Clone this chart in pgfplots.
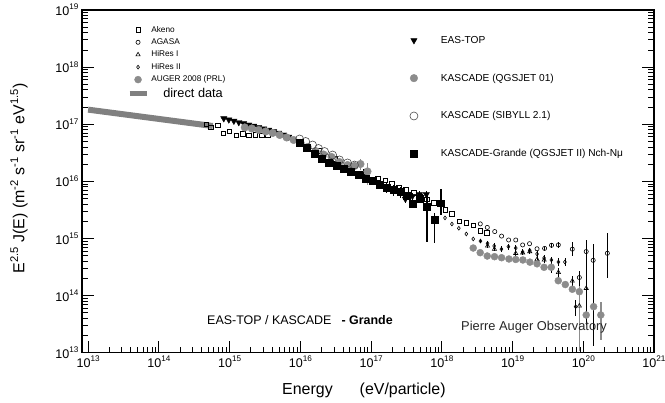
\documentclass[border=0pt]{standalone}
\usepackage{pgfplots}
\pgfplotsset{compat=1.18}
\usepackage{fontspec}
\setmainfont{Liberation Sans}
\setsansfont{Liberation Sans}
\definecolor{dg}{RGB}{128,128,128}
\definecolor{cg}{RGB}{140,140,140}
\newcommand{\tl}[1]{10\raisebox{0.45em}{\fontsize{8.2}{9}\selectfont #1}}
\begin{document}
\begin{tikzpicture}
\begin{axis}[
  scale only axis, width=572bp, height=342.7bp,
  xmode=log, ymode=log, xmin=8.2e12, xmax=1e21, ymin=1e13, ymax=1e19,
  at={(0bp,0bp)}, anchor=south west,
  axis line style={line width=1.1bp},
  xtick pos=left, ytick pos=both,
  major tick length=12bp, minor tick length=6bp,
  tick style={black, line width=0.8bp},
  xtick={1e13,1e14,1e15,1e16,1e17,1e18,1e19,1e20,1e21},
  xticklabels={\tl{13},\tl{14},\tl{15},\tl{16},\tl{17},\tl{18},\tl{19},\tl{20},\tl{21}},
  ytick={1e13,1e14,1e15,1e16,1e17,1e18,1e19},
  yticklabels={\tl{13},\tl{14},\tl{15},\tl{16},\tl{17},\tl{18},\tl{19}},
  tick label style={font=\fontsize{12.6}{13}\selectfont},
  xlabel={Energy\hspace{27bp}(eV/particle)},
  xlabel style={at={(axis description cs:0.3497,-0.1234)}, anchor=base west, inner sep=0pt, font=\fontsize{16}{17}\selectfont},
  ylabel={E\textsuperscript{2.5} J(E) (m\textsuperscript{-2} s\textsuperscript{-1} sr\textsuperscript{-1} eV\textsuperscript{1.5})},
  ylabel style={at={(axis description cs:-0.110,0.508)}, anchor=center, inner sep=0pt, font=\fontsize{16}{17}\selectfont},
  legend style={draw=none, fill=none, at={(axis description cs:0.0762,0.962)}, anchor=north west,
    font=\fontsize{8.3}{9}\selectfont, row sep=1bp, inner sep=1bp},
  legend cell align=left,
]
% direct data
\addplot[dg, line width=6bp, forget plot] coordinates {(1e13,1.8e17) (5.8e14,9.3e16)};
% Akeno
\addplot[only marks, mark=square, mark size=2.2bp, mark options={black, line width=0.6bp}] table {
x y
4.7e14 1.0e17
5.4e14 8.8e16
6.8e14 9.5e16
8.1e14 6.9e16
1.0e15 7.5e16
1.24e15 6.4e16
1.53e15 6.8e16
1.87e15 6.35e16
2.3e15 6.5e16
2.85e15 6.35e16
3.46e15 6.4e16
1.87e16 3.4e16
3.15e16 2.5e16
5.3e16 1.9e16
8.3e16 1.46e16
1.24e17 1.13e16
1.58e17 1.04e16
1.96e17 9.0e15
2.46e17 7.9e15
3.1e17 7.1e15
4.0e17 6.3e15
5.0e17 5.5e15
6.1e17 4.9e15
7.7e17 4.2e15
1.11e18 3.15e15
1.39e18 2.7e15
1.77e18 1.98e15
2.2e18 1.89e15
2.78e18 1.72e15
3.5e18 1.37e15
4.3e18 1.26e15
};
\addlegendentry{Akeno}
% AGASA
\addplot[only marks, mark=o, mark size=2.1bp, mark options={black, line width=0.6bp},
  error bars/y dir=both, error bars/y explicit, error bars/error mark=none,
  error bars/error bar style={black, line width=0.7bp}]
  table[x=x, y=y, y error plus=ep, y error minus=em] {
x y ep em
3.5e18 1.8e15 0 0
4.4e18 1.56e15 0 0
5.6e18 1.32e15 0 0
7.0e18 1.1e15 0 0
8.8e18 9.4e14 0 0
1.11e19 9.4e14 0 0
1.39e19 7.7e14 0 0
1.74e19 8.1e14 0 0
2.22e19 6.6e14 0 0
2.84e19 6.7e14 0.5e14 0.5e14
3.56e19 7.6e14 0.7e14 0.7e14
4.44e19 7.7e14 0.8e14 0.8e14
7.0e19 6.5e14 2.3e14 1.6e14
8.8e19 2.07e14 0.6e14 0.9e14
1.1e20 5.9e14 3.5e14 5.6e14
1.38e20 4.15e14 3.9e14 4.02e14
2.19e20 5.5e14 6.8e14 3.5e14
};
\addlegendentry{AGASA}
% HiRes I
\addplot[only marks, mark=triangle, mark size=2.4bp, mark options={black, line width=0.6bp},
  error bars/y dir=both, error bars/y explicit, error bars/error mark=none,
  error bars/error bar style={black, line width=0.7bp}]
  table[x=x, y=y, y error plus=ep, y error minus=em] {
x y ep em
4.43e18 7.4e14 0.5e14 0.5e14
5.55e18 6.5e14 0.5e14 0.5e14
1.11e19 5.5e14 0.5e14 0.5e14
1.39e19 5.6e14 0.5e14 0.5e14
1.75e19 5.9e14 0.5e14 0.5e14
2.22e19 4.3e14 0.5e14 0.5e14
2.8e19 4.2e14 0.5e14 0.5e14
3.54e19 3.0e14 0.5e14 0.5e14
4.45e19 2.55e14 0.5e14 0.5e14
7.0e19 1.8e14 0.4e14 0.4e14
8.8e19 6.6e13 3e13 3e13
1.1e20 1.34e14 0.6e14 0.5e14
};
\addlegendentry{HiRes I}
% HiRes II
\addplot[only marks, mark=diamond, mark size=1.9bp, mark options={black, line width=0.6bp},
  error bars/y dir=both, error bars/y explicit, error bars/error mark=none,
  error bars/error bar style={black, line width=0.7bp}]
  table[x=x, y=y, y error plus=ep, y error minus=em] {
x y ep em
1.11e18 2.29e15 0 0
1.39e18 1.79e15 0 0
1.74e18 1.51e15 0 0
2.22e18 1.2e15 0 0
2.78e18 9.8e14 0 0
3.52e18 9.0e14 0.8e14 0.8e14
4.43e18 8.2e14 0.8e14 0.8e14
5.5e18 7.4e14 0.8e14 0.8e14
6.97e18 6.5e14 0.8e14 0.8e14
8.75e18 7.2e14 0.8e14 0.8e14
1.11e19 6.8e14 0.8e14 0.8e14
1.39e19 5.8e14 0.7e14 0.7e14
1.75e19 6.2e14 0.7e14 0.7e14
2.22e19 5.35e14 0.7e14 0.7e14
2.79e19 4.55e14 0.6e14 0.6e14
3.54e19 4.2e14 0.6e14 0.6e14
4.45e19 3.87e14 0.6e14 0.6e14
5.5e19 3.87e14 0.6e14 0.6e14
7.8e19 6.4e13 2e13 2e13
};
\addlegendentry{HiRes II}
% Auger 2008
\addplot[only marks, mark=*, mark size=3.5bp, mark options={draw=cg, fill=cg},
  error bars/y dir=both, error bars/y explicit, error bars/error mark=none,
  error bars/error bar style={cg, line width=1.5bp}]
  table[x=x, y=y, y error plus=ep, y error minus=em] {
x y ep em
2.78e18 6.8e14 0 0
3.49e18 5.64e14 0 0
4.39e18 4.93e14 0 0
5.56e18 4.8e14 0 0
7.0e18 4.6e14 0 0
8.9e18 4.37e14 0 0
1.11e19 4.29e14 0 0
1.4e19 4.2e14 0 0
1.76e19 3.85e14 0 0
2.22e19 3.6e14 0 0
2.79e19 3.13e14 0 0
3.53e19 3.13e14 0 0
4.43e19 1.82e14 0 0
5.57e19 1.56e14 0 0
7.0e19 1.29e14 0 0
8.8e19 1.17e14 0.3e14 1.065e14
1.1e20 4.57e13 0 0
1.4e20 6.4e13 0 0
1.77e20 4.57e13 3.2e13 2.9e13
};
\addlegendentry{AUGER 2008 (PRL)}
\addlegendimage{dg, line width=5.5bp}
\addlegendentry{\hspace*{12bp}\fontsize{12.8}{13}\selectfont direct data}
\node[anchor=base west, inner sep=0pt, font=\fontsize{12.5}{13}\selectfont] at (axis description cs:0.2185,0.0837) {EAS-TOP / KASCADE\hspace{10bp}\textbf{- Grande}};
\node[anchor=base west, inner sep=0pt, font=\fontsize{12.9}{13}\selectfont, text=black!85] at (axis description cs:0.6626,0.0662) {Pierre Auger Observatory};
\end{axis}
\begin{axis}[
  scale only axis, width=572bp, height=342.7bp,
  xmode=log, ymode=log, xmin=8.2e12, xmax=1e21, ymin=1e13, ymax=1e19,
  at={(0bp,0bp)}, anchor=south west,
  hide axis,
  legend style={draw=none, fill=none, at={(axis description cs:0.5712,0.933)}, anchor=north west,
    font=\fontsize{10.2}{11}\selectfont, row sep=25bp, inner sep=1bp},
  legend cell align=left,
]
% EAS-TOP
\addplot[only marks, mark=triangle*, mark size=3.6bp, mark options={black, rotate=180},
  error bars/y dir=both, error bars/y explicit, error bars/error mark=none,
  error bars/error bar style={black, line width=0.9bp}]
  table[x=x, y=y, y error plus=ep, y error minus=em] {
x y ep em
8.28e14 1.26e17 0 0
9.75e14 1.20e17 0 0
1.15e15 1.14e17 0 0
1.35e15 1.08e17 0 0
1.58e15 1.03e17 0 0
1.87e15 9.78e16 0 0
2.19e15 9.31e16 0 0
2.58e15 8.84e16 0 0
3.03e15 8.35e16 0 0
3.57e15 7.93e16 0 0
4.2e15 7.46e16 0 0
4.94e15 7.03e16 0 0
5.81e15 6.53e16 0 0
6.84e15 5.98e16 0 0
3.06e17 4.91e15 0.8e15 0.8e15
3.84e17 5.5e15 0.8e15 0.8e15
4.82e17 5.89e15 1.0e15 1.0e15
6.04e17 5.89e15 1.0e15 1.0e15
};
\addlegendentry{\hspace*{21bp}EAS-TOP}
% KASCADE QGSJET 01
\addplot[only marks, mark=*, mark size=3.8bp, mark options={draw=cg, fill=cg},
  error bars/y dir=both, error bars/y explicit, error bars/error mark=none,
  error bars/error bar style={cg, line width=1bp}]
  table[x=x, y=y, y error plus=ep, y error minus=em] {
x y ep em
1.64e15 8.77e16 0 0
2.06e15 8.42e16 0 0
2.58e15 7.93e16 0 0
3.24e15 7.46e16 0 0
4.07e15 7.03e16 0 0
5.11e15 6.48e16 0 0
6.41e15 5.86e16 0 0
8.04e15 5.3e16 0 0
1.01e16 4.7e16 0 0
1.27e16 4.0e16 0 0
1.64e16 3.4e16 0 0
2.13e16 2.95e16 0 0
2.76e16 2.67e16 0 0
3.58e16 2.18e16 0 0
4.65e16 1.93e16 0.2e16 0.2e16
5.83e16 1.86e16 0.3e16 0.3e16
7.08e16 2.01e16 0.5e16 0.45e16
8.9e16 1.49e16 0.6e16 0.63e16
};
\addlegendentry{\hspace*{21bp}KASCADE (QGSJET 01)}
% KASCADE SIBYLL 2.1
\addplot[only marks, mark=o, mark size=4bp, mark options={black!70, line width=0.6bp}] table {
x y
9.77e15 5.52e16
1.19e16 4.99e16
1.49e16 4.33e16
1.81e16 3.76e16
2.2e16 3.33e16
2.86e16 2.89e16
3.58e16 2.37e16
4.65e16 2.1e16
5.83e16 1.93e16
};
\addlegendentry{\hspace*{21bp}KASCADE (SIBYLL 2.1)}
% KASCADE-Grande
\addplot[only marks, mark=square*, mark size=3.4bp, mark options={black},
  error bars/y dir=both, error bars/y explicit, error bars/error mark=none,
  error bars/error bar style={black, line width=1.5bp}]
  table[x=x, y=y, y error plus=ep, y error minus=em] {
x y ep em
9.77e15 4.79e16 0 0
1.23e16 3.92e16 0 0
1.59e16 3.08e16 0 0
2.03e16 2.51e16 0 0
2.55e16 2.14e16 0 0
3.25e16 1.86e16 0 0
4.08e16 1.64e16 0 0
5.12e16 1.49e16 0.15e16 0.15e16
6.64e16 1.29e16 0.15e16 0.15e16
8.34e16 1.12e16 0.15e16 0.15e16
1.05e17 1.01e16 0.15e16 0.15e16
1.31e17 8.81e15 1.5e15 1.5e15
1.65e17 7.81e15 1.5e15 1.5e15
2.07e17 7.06e15 1.5e15 1.5e15
2.6e17 6.52e15 1.5e15 1.5e15
3.16e17 5.54e15 0.8e15 0.8e15
3.9e17 4.02e15 0.6e15 0.6e15
4.82e17 4.91e15 0.5e15 0.5e15
6.18e17 3.56e15 2.69e15 2.68e15
7.84e17 2.11e15 0.68e15 1.27e15
9.75e17 4.13e15 3.22e15 1.55e15
};
\addlegendentry{\hspace*{21bp}KASCADE-Grande (QGSJET II) Nch-Nμ}
\end{axis}
\pgfresetboundingbox
\path[use as bounding box] (-82bp,-50.3bp) rectangle (583bp,352.7bp);
\end{tikzpicture}
\end{document}
